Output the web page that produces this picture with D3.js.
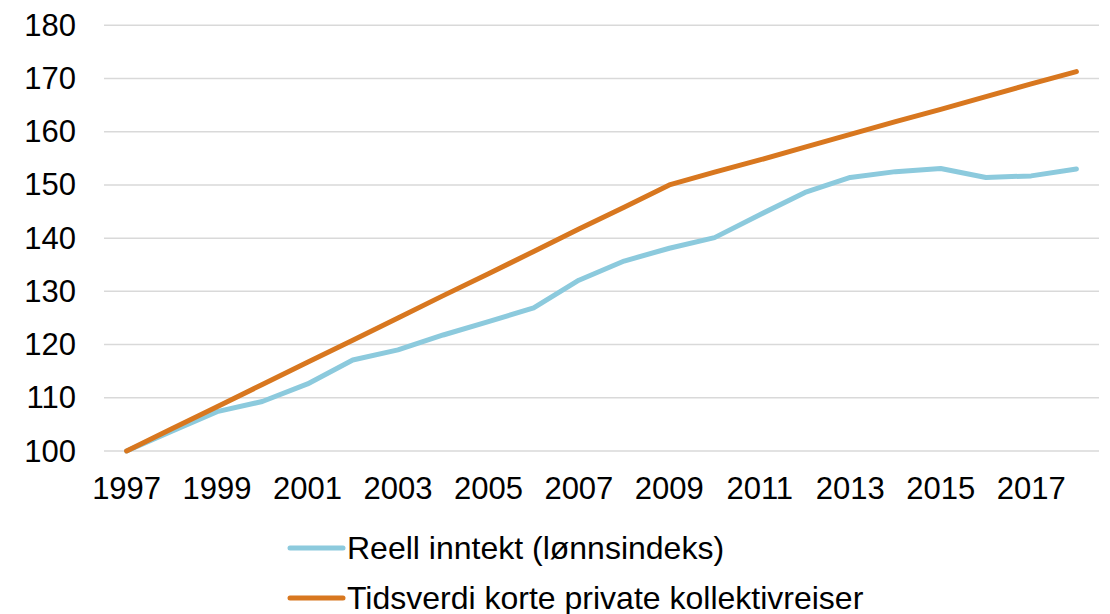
<!DOCTYPE html>
<html>
<head>
<meta charset="utf-8">
<script src="https://cdn.jsdelivr.net/npm/d3@7"></script>
<style>
  body { margin: 0; background: #fff; }
  svg { display: block; font-family: "Liberation Sans", Arial, sans-serif; }
</style>
</head>
<body>
<div class="chart"></div>
<script>
// data
const years = [1997, 1998, 1999, 2000, 2001, 2002, 2003, 2004, 2005, 2006, 2007,
   2008, 2009, 2010, 2011, 2012, 2013, 2014, 2015, 2016, 2017, 2018];
const reellInntekt = [100, 103.7, 107.4, 109.3, 112.6, 117.1, 119.0, 121.8, 124.3, 126.9, 132.1,
   135.7, 138.1, 140.1, 144.4, 148.6, 151.4, 152.5, 153.1, 151.4, 151.7, 153.0];
const tidsverdi = [100, 104.2, 108.3, 112.5, 116.7, 120.8, 125.0, 129.2, 133.3, 137.5, 141.7,
   145.8, 150.0, 152.4, 154.7, 157.1, 159.5, 161.9, 164.2, 166.6, 169.0, 171.3];
const yTicks = [100, 110, 120, 130, 140, 150, 160, 170, 180];
const xTickLabels = years.filter((y) => y % 2 === 1);

const series = [
   { name: "Reell inntekt (lønnsindeks)", values: reellInntekt, color: "#8CCADD" },
   { name: "Tidsverdi korte private kollektivreiser", values: tidsverdi, color: "#D8771F" },
];

// setup chart
const width = 1110;
const height = 614;
const fontSize = "31px";
const svg = d3.select(".chart").append("svg").attr("width", width).attr("height", height);

const x = d3.scalePoint().domain(years).range([104, 1099]).padding(0.5);
const y = d3.scaleLinear().domain([100, 180]).range([451, 25.3]);

// gridlines
svg.append("g")
   .selectAll("line")
   .data(yTicks)
   .enter()
   .append("line")
   .attr("x1", 104)
   .attr("x2", 1099)
   .attr("y1", (d) => y(d))
   .attr("y2", (d) => y(d))
   .attr("stroke", "#D9D9D9")
   .attr("stroke-width", 1.5);

// y labels
svg.append("g")
   .selectAll("text")
   .data(yTicks)
   .enter()
   .append("text")
   .attr("x", 76)
   .attr("y", (d) => y(d) + 10.5)
   .attr("text-anchor", "end")
   .style("font-size", fontSize)
   .attr("fill", "#000")
   .text((d) => d);

// x labels
svg.append("g")
   .selectAll("text")
   .data(xTickLabels)
   .enter()
   .append("text")
   .attr("x", (d) => x(d))
   .attr("y", 499)
   .attr("text-anchor", "middle")
   .style("font-size", fontSize)
   .attr("fill", "#000")
   .text((d) => d);

// lines
const line = d3.line()
   .x((d, i) => x(years[i]))
   .y((d) => y(d));

svg.append("g")
   .selectAll("path")
   .data(series)
   .enter()
   .append("path")
   .attr("d", (d) => line(d.values))
   .attr("fill", "none")
   .attr("stroke", (d) => d.color)
   .attr("stroke-width", 5)
   .attr("stroke-linecap", "round")
   .attr("stroke-linejoin", "round");

// legend
const legend = svg.append("g")
   .selectAll("g")
   .data(series)
   .enter()
   .append("g")
   .attr("transform", (d, i) => `translate(0, ${548 + i * 50})`);

legend.append("line")
   .attr("x1", 290)
   .attr("x2", 343)
   .attr("stroke", (d) => d.color)
   .attr("stroke-width", 5)
   .attr("stroke-linecap", "round");

legend.append("text")
   .attr("x", 347)
   .attr("y", 11)
   .style("font-size", "32px")
   .attr("fill", "#000")
   .text((d) => d.name);
</script>
</body>
</html>
